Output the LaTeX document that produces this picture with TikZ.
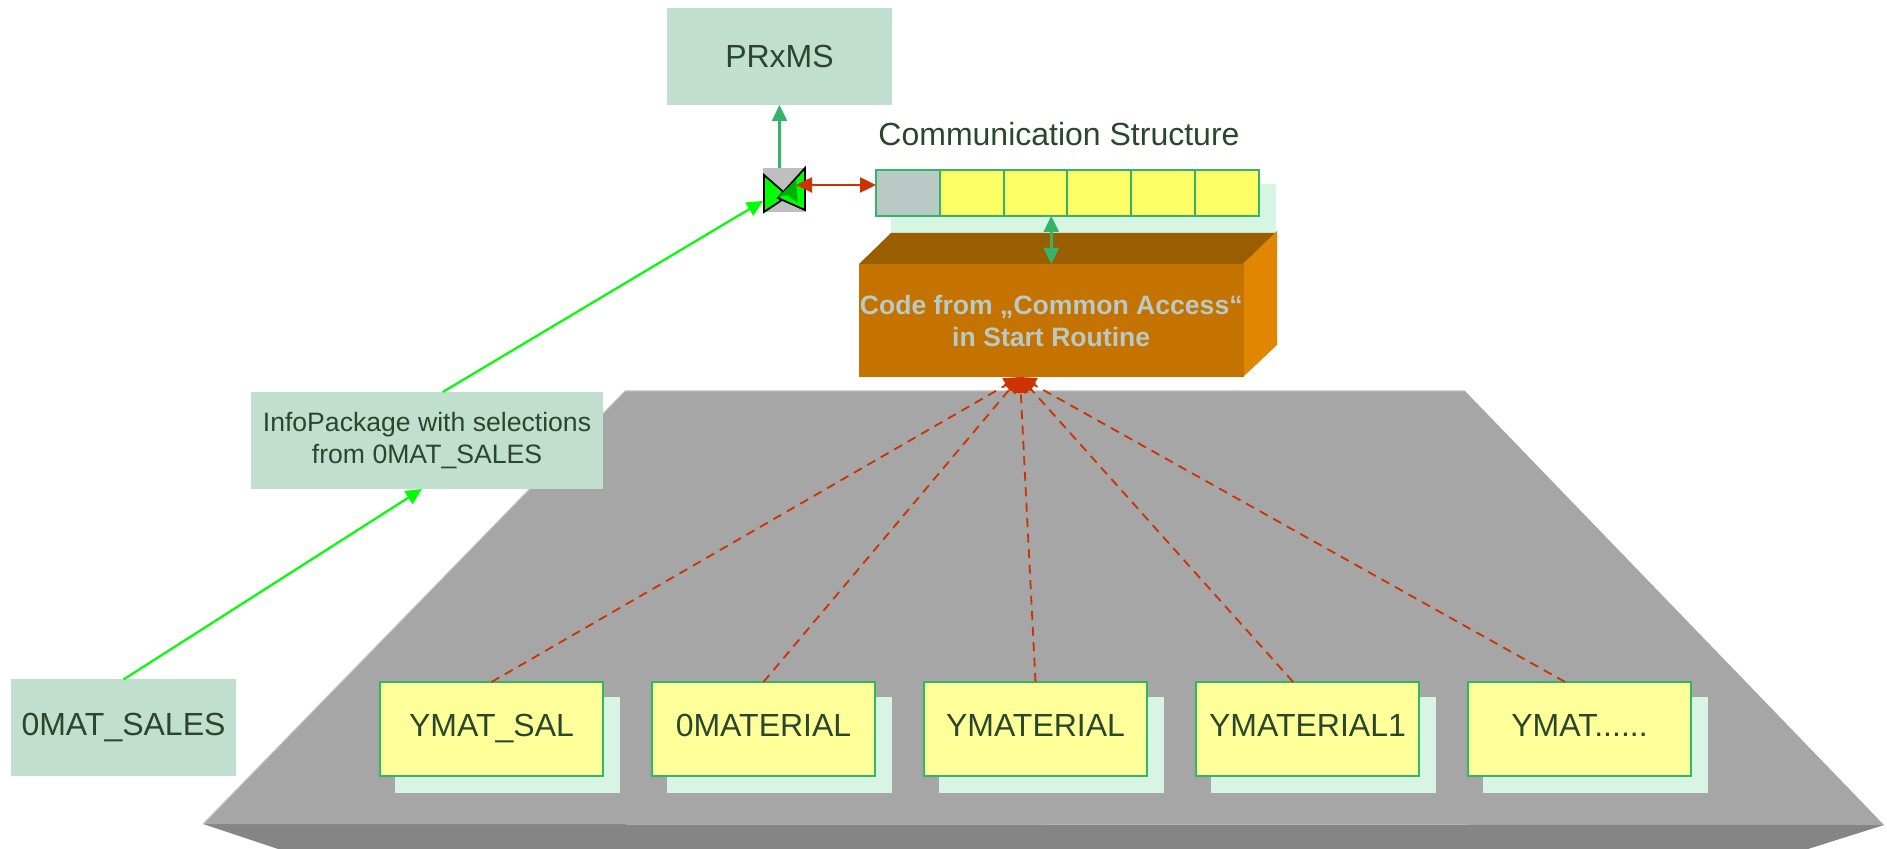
\documentclass[tikz,border=0pt]{standalone}
\usepackage{fontspec}
\setmainfont{Liberation Sans}
\usetikzlibrary{arrows.meta}
\definecolor{boxgreen}{HTML}{C1DFCF}
\definecolor{shadegreen}{HTML}{D7F5E3}
\definecolor{linegreen}{HTML}{33B469}
\definecolor{inkgreen}{HTML}{2A472C}
\definecolor{paleyellow}{HTML}{FFFF99}
\definecolor{cellyellow}{HTML}{FFFF66}
\definecolor{cellgrey}{HTML}{B9CAC6}
\definecolor{linered}{HTML}{CC3300}
\begin{document}
\begin{tikzpicture}[x=0.5pt,y=-0.5pt,
  greenbox/.style={fill=boxgreen,text=inkgreen,minimum width=112.5pt,minimum height=48.5pt,inner sep=0pt,outer sep=0pt,align=center,font=\fontsize{16}{19}\selectfont},
  ymatbox/.style={draw=linegreen,line width=1pt,fill=paleyellow,text=inkgreen,minimum width=111.5pt,minimum height=47pt,inner sep=0pt,outer sep=0pt,text height=11.5pt,text depth=3.5pt,font=\fontsize{16}{19}\selectfont},
  shadebox/.style={fill=shadegreen,minimum width=112.5pt,minimum height=48pt,inner sep=0pt,outer sep=0pt},
  cellbox/.style={draw=linegreen,line width=1pt,fill=cellyellow,minimum width=31.9pt,minimum height=23pt,inner sep=0pt,outer sep=0pt},
  limearrow/.style={draw=green,line width=1.1pt,-{Triangle[length=8pt,width=7.5pt]}},
  redarrow/.style={draw=linered,line width=1.25pt,{Triangle[length=8pt,width=7.5pt]}-{Triangle[length=8pt,width=7.5pt]}},
  greenarrow/.style={draw=linegreen,line width=1.25pt,-{Triangle[length=8pt,width=7.5pt]}},
  dashline/.style={draw=linered,line width=0.9pt,dash pattern=on 4.5pt off 3.25pt,-{Triangle[length=8pt,width=7.5pt]}}]
\useasboundingbox (0,0) rectangle (1887,849);
% platform
\fill [color=black!48] (203,824) -- (278,849) -- (1808,849) -- (1884,825) -- cycle;
\fill [color=black!35] (625,391) -- (1465,391) -- (1884,825) -- (203,824) -- cycle;
\draw [color=black!22,line width=0.5pt] (203,824) -- (625,391) -- (1465,391);
% dashed lines to the code block
\coordinate (hub) at (1020,377);
\foreach \x in {491.5,763.5,1035.5,1307.5,1579.5} {
  \node [shadebox] at (\x+16,745) {};
}
\node [ymatbox] (ymatsal) at (491.5,729) {YMAT\_SAL};
\node [ymatbox] (zeromat) at (763.5,729) {0MATERIAL};
\node [ymatbox] (ymat) at (1035.5,729) {YMATERIAL};
\node [ymatbox] (ymatone) at (1307.5,729) {YMATERIAL1};
\node [ymatbox] (ymatdots) at (1579.5,729) {YMAT......};
\draw [dashline] (ymatsal.north) -- (hub);
\draw [dashline] (zeromat.north) -- (hub);
\draw [dashline] (ymat.north) -- (hub);
\draw [dashline] (ymatone.107) -- (hub);
\draw [dashline] (ymatdots.107) -- (hub);
% code block
\fill [color=shadegreen] (891,184) rectangle (1276,233);
\fill [color={rgb,255:red,152;green,94;blue,0}] (859,264) -- (891,233) -- (1277,233) -- (1243,264) -- cycle;
\fill [color={rgb,255:red,224;green,134;blue,0}] (1243,264) -- (1277,231) -- (1277,345) -- (1243,377) -- cycle;
\node [fill={rgb,255:red,196;green,114;blue,0},text=cellgrey,minimum width=192.5pt,minimum height=56.5pt,inner sep=0pt,outer sep=0pt,align=center,font=\fontsize{13.3}{16}\selectfont\bfseries] (code) at (1051.25,320.5) {Code from „Common Access“\\in Start Routine};
% communication structure
\node [cellbox,fill=cellgrey] (cell0) at (907.9,193) {};
\foreach \i in {1,...,5} {
  \node [cellbox] (cell\i) at (907.9+\i*63.83,193) {};
}
\node [text=inkgreen,font=\fontsize{16}{19}\selectfont] (commlabel) at (1059,134) {Communication Structure};
\draw [greenarrow,{Triangle[length=8pt,width=7.5pt]}-{Triangle[length=8pt,width=7.5pt]}] (code.north |- cell0.south) -- (code.north);
% sources and target
\node [greenbox] (prxms) at (779.5,56.5) {PRxMS};
\node [greenbox] (zerosales) at (123.5,728) {0MAT\_SALES};
\node [greenbox,minimum width=176pt,font=\fontsize{13.3}{15.7}\selectfont] (infopack) at (427,440.5) {InfoPackage with selections\\from 0MAT\_SALES};
% gate
\node [fill=black!25,minimum width=21.5pt,minimum height=22pt,inner sep=0pt,outer sep=0pt] (gate) at (784.5,190) {};
\draw [draw=black,line width=0.9pt,fill=green] (764,175) -- (788,196) -- (764,212) -- cycle;
\draw [draw=black,line width=0.9pt,fill=green] (805,168) -- (778,198) -- (805,210) -- cycle;
\fill [color=green!70!black] (778,197) -- (796,180) -- (798,203) -- (787,195) -- cycle;
\coordinate (gatemid) at (796,185);
\draw [greenarrow] (prxms.south |- gate.north) -- (prxms.south);
\draw [redarrow] (gatemid) -- (cell0.west |- gatemid);
\draw [limearrow] (zerosales.north) -- (infopack.264);
\draw [limearrow] (infopack.72) -- (gate.207);
\end{tikzpicture}
\end{document}
